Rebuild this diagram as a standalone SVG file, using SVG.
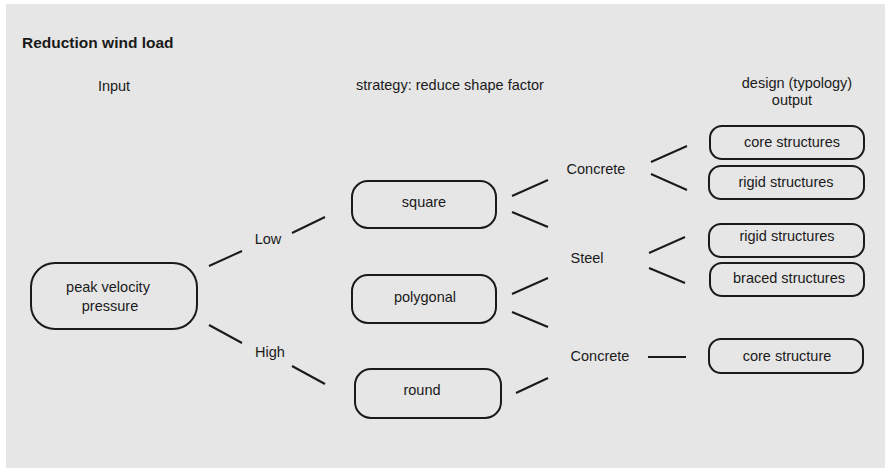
<svg xmlns="http://www.w3.org/2000/svg" width="885" height="468" viewBox="0 0 885 468">
  <style>
    .bg { fill: #e6e6e6; }
    .box { fill: none; stroke: #1a1a1a; stroke-width: 2; }
    .link { stroke: #1a1a1a; stroke-width: 2; stroke-linecap: butt; fill: none; }
    text { font-family: "Liberation Sans", Arial, sans-serif; font-size: 14.5px; fill: #1a1a1a; }
    .mid { text-anchor: middle; }
    .title { font-weight: bold; font-size: 15.5px; }
  </style>

  <rect class="bg" x="6" y="4" width="879" height="464"/>

  <!-- headings -->
  <text class="title" x="22" y="48">Reduction wind load</text>
  <text class="mid" x="114" y="91">Input</text>
  <text class="mid" x="450" y="90">strategy: reduce shape factor</text>
  <text class="mid" x="797" y="88">design (typology)</text>
  <text class="mid" x="792" y="105">output</text>

  <!-- connectors -->
  <g id="connectors">
    <line class="link" x1="209" y1="266" x2="242" y2="251"/>
    <line class="link" x1="292" y1="233" x2="325" y2="217"/>
    <line class="link" x1="209" y1="325" x2="242" y2="343"/>
    <line class="link" x1="292" y1="366" x2="325" y2="384"/>

    <line class="link" x1="512" y1="196" x2="548" y2="180"/>
    <line class="link" x1="512" y1="212" x2="548" y2="227"/>
    <line class="link" x1="512" y1="294" x2="548" y2="278"/>
    <line class="link" x1="512" y1="312" x2="548" y2="327"/>
    <line class="link" x1="516" y1="393" x2="548" y2="378"/>

    <line class="link" x1="651" y1="162" x2="687" y2="146"/>
    <line class="link" x1="651" y1="174" x2="687" y2="190"/>
    <line class="link" x1="649" y1="253" x2="685" y2="237"/>
    <line class="link" x1="649" y1="268" x2="685" y2="283"/>
    <line class="link" x1="648" y1="357" x2="686" y2="357"/>
  </g>

  <!-- branch labels -->
  <g id="label-low"><text class="mid" x="268" y="244">Low</text></g>
  <g id="label-high"><text class="mid" x="270" y="357">High</text></g>
  <g id="label-concrete-1"><text class="mid" x="596" y="174">Concrete</text></g>
  <g id="label-steel"><text class="mid" x="587" y="263">Steel</text></g>
  <g id="label-concrete-2"><text class="mid" x="600" y="361">Concrete</text></g>

  <!-- input -->
  <g id="node-peak">
    <rect class="box" x="31" y="263" width="166" height="66" rx="24"/>
    <text class="mid" x="108" y="292">peak velocity</text>
    <text class="mid" x="110" y="311">pressure</text>
  </g>

  <!-- shapes -->
  <g id="node-square">
    <rect class="box" x="352" y="181" width="144" height="47" rx="16"/>
    <text class="mid" x="424" y="207">square</text>
  </g>
  <g id="node-polygonal">
    <rect class="box" x="352" y="275" width="144" height="48" rx="16"/>
    <text class="mid" x="425" y="302">polygonal</text>
  </g>
  <g id="node-round">
    <rect class="box" x="355" y="369" width="146" height="49" rx="16"/>
    <text class="mid" x="422" y="395">round</text>
  </g>

  <!-- typologies -->
  <g id="node-core-structures">
    <rect class="box" x="710" y="126" width="154" height="33" rx="12"/>
    <text class="mid" x="792" y="147">core structures</text>
  </g>
  <g id="node-rigid-structures-1">
    <rect class="box" x="709" y="166" width="155" height="33" rx="12"/>
    <text class="mid" x="786" y="187">rigid structures</text>
  </g>
  <g id="node-rigid-structures-2">
    <rect class="box" x="709" y="224" width="155" height="33" rx="12"/>
    <text class="mid" x="787" y="241">rigid structures</text>
  </g>
  <g id="node-braced-structures">
    <rect class="box" x="710" y="263" width="154" height="33" rx="12"/>
    <text class="mid" x="789" y="283">braced structures</text>
  </g>
  <g id="node-core-structure">
    <rect class="box" x="709" y="339" width="154" height="34" rx="12"/>
    <text class="mid" x="787" y="361">core structure</text>
  </g>
</svg>
